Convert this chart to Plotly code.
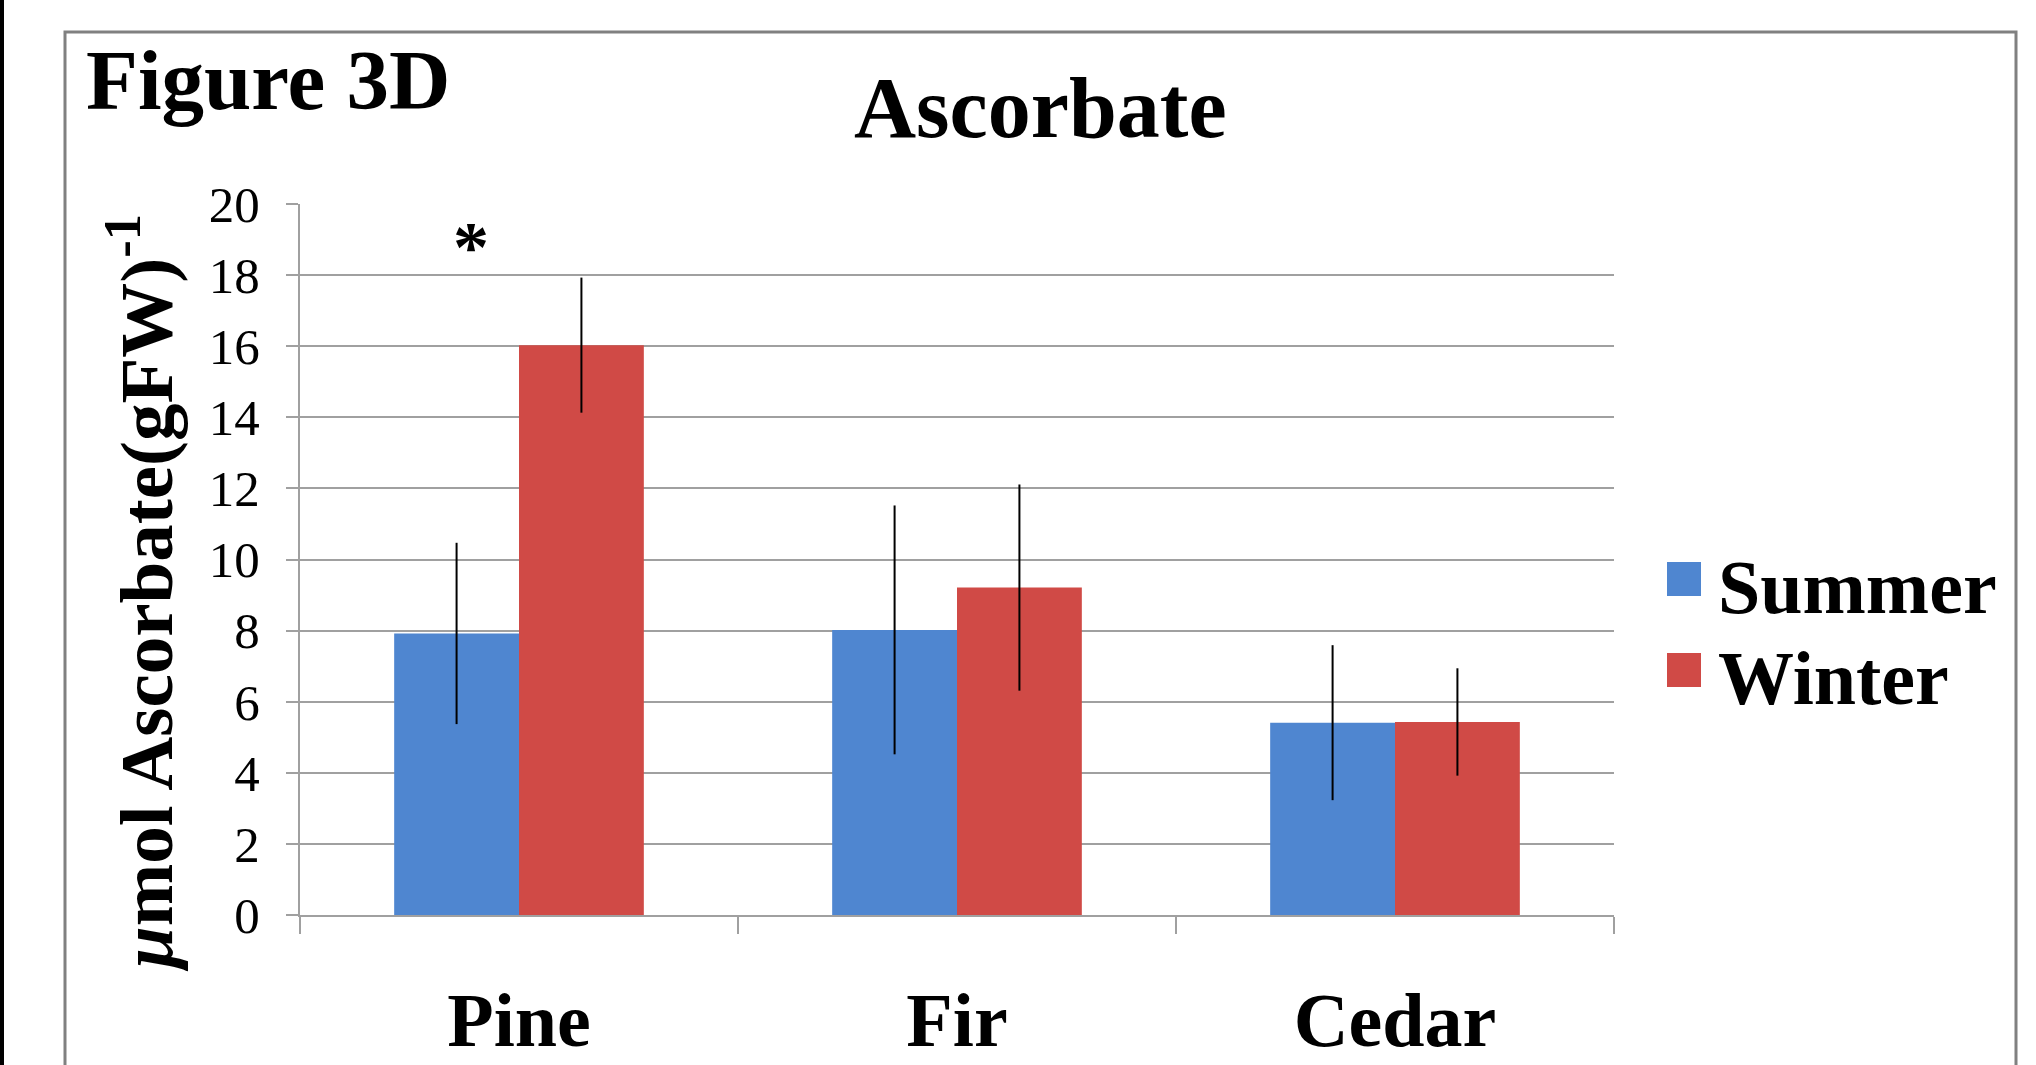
import plotly.graph_objects as go

categories = ["Pine", "Fir", "Cedar"]
series_names = ["Summer", "Winter"]
summer_vals = [7.92, 8.02, 5.41]
summer_err = [2.55, 3.5, 2.18]
winter_vals = [16.03, 9.21, 5.43]
winter_err = [1.9, 2.9, 1.51]
colors = ["#4F86D0", "#D04A46"]
y_ticks = [0, 2, 4, 6, 8, 10, 12, 14, 16, 18, 20]
sig_category = "Pine"
sig_level = 18.8

W, H = 2036, 1065
L, R, T, B = 300, 1614, 204, 915  # plot area in pixels

def px(x):
    return (x - L) / (R - L)

def py(y):
    return (B - y) / (B - T)

SERIF = "Liberation Serif, Times New Roman, serif"

fig = go.Figure()
for name, vals, errs, col in zip(series_names, [summer_vals, winter_vals],
                                 [summer_err, winter_err], colors):
    fig.add_trace(go.Bar(
        x=categories, y=vals, name=name, marker=dict(color=col, line=dict(width=0)),
        error_y=dict(type="data", array=errs, visible=True, color="black",
                     thickness=2, width=0),
        showlegend=False,
    ))

fig.update_layout(
    width=W, height=H,
    margin=dict(l=L, r=W - R, t=T, b=H - B, pad=0, autoexpand=False),
    paper_bgcolor="white", plot_bgcolor="white",
    barmode="group", bargap=0.43, bargroupgap=0,
    showlegend=False,
    font=dict(family=SERIF, color="black"),
)

fig.update_xaxes(
    type="category", automargin=False, showgrid=False, showline=True,
    linecolor="#A0A0A0", linewidth=2,
    ticks="outside", tickson="boundaries", ticklen=17, tickwidth=2, tickcolor="#A0A0A0",
    tickfont=dict(family=SERIF, size=76, color="black", weight="bold"),
    ticklabelstandoff=38,
)
fig.update_yaxes(
    range=[0, 20], automargin=False, tickvals=y_ticks, ticktext=[str(v) for v in y_ticks],
    showgrid=True, gridcolor="#A0A0A0", gridwidth=2,
    showline=True, linecolor="#A0A0A0", linewidth=2, zeroline=False,
    ticks="outside", ticklen=12, tickwidth=2, tickcolor="#A0A0A0",
    tickfont=dict(family=SERIF, size=51, color="black"),
    ticklabelstandoff=16,
)

annotations = [
    dict(text="<b>Figure 3D</b>", x=px(84), y=py(80), xref="paper", yref="paper",
         xanchor="left", yanchor="middle", showarrow=False,
         font=dict(family=SERIF, size=85, color="black")),
    dict(text="<b>Ascorbate</b>", x=px(1040), y=py(108), xref="paper", yref="paper",
         xanchor="center", yanchor="middle", showarrow=False,
         font=dict(family=SERIF, size=86, color="black")),
    dict(text="<b><i>μ</i>mol Ascorbate(gFW)<sup>-1</sup></b>", x=px(140), y=py(593),
         xref="paper", yref="paper", xanchor="center", yanchor="middle",
         textangle=-90, showarrow=False,
         font=dict(family=SERIF, size=75, color="black")),
    dict(text="<b>*</b>", x=sig_category, y=sig_level, xref="x", yref="y", xshift=-48,
         xanchor="center", yanchor="middle", showarrow=False,
         font=dict(family=SERIF, size=72, color="black")),
]

shapes = []
# legend (manual, to get large swatches)
leg_sq_top = [562, 653]
for i, (name, col) in enumerate(zip(series_names, colors)):
    top = leg_sq_top[i]
    shapes.append(dict(type="rect", xref="paper", yref="paper",
                       x0=px(1667), x1=px(1701), y0=py(top + 34), y1=py(top),
                       fillcolor=col, line=dict(width=0)))
    annotations.append(dict(text="<b>%s</b>" % name, x=px(1716), y=py(top + 25),
                            xref="paper", yref="paper", xanchor="left", yanchor="middle",
                            showarrow=False,
                            font=dict(family=SERIF, size=76, color="black")))

# outer frame and left black edge
shapes.append(dict(type="rect", xref="paper", yref="paper",
                   x0=px(65), x1=px(2016), y0=py(1100), y1=py(32),
                   line=dict(color="#808080", width=3), fillcolor="rgba(0,0,0,0)"))
shapes.append(dict(type="rect", xref="paper", yref="paper",
                   x0=px(0), x1=px(4), y0=py(1070), y1=py(-5),
                   line=dict(width=0), fillcolor="black"))

fig.update_layout(annotations=annotations, shapes=shapes)
fig.write_html(
    "out.html",
    config={"displayModeBar": False},
    post_script=(
        "document.body.style.margin='0';document.body.style.padding='0';"
        "var d=document.getElementById('{plot_id}');"
        "d.style.position='fixed';d.style.top='0px';d.style.left='0px';"
    ),
)
